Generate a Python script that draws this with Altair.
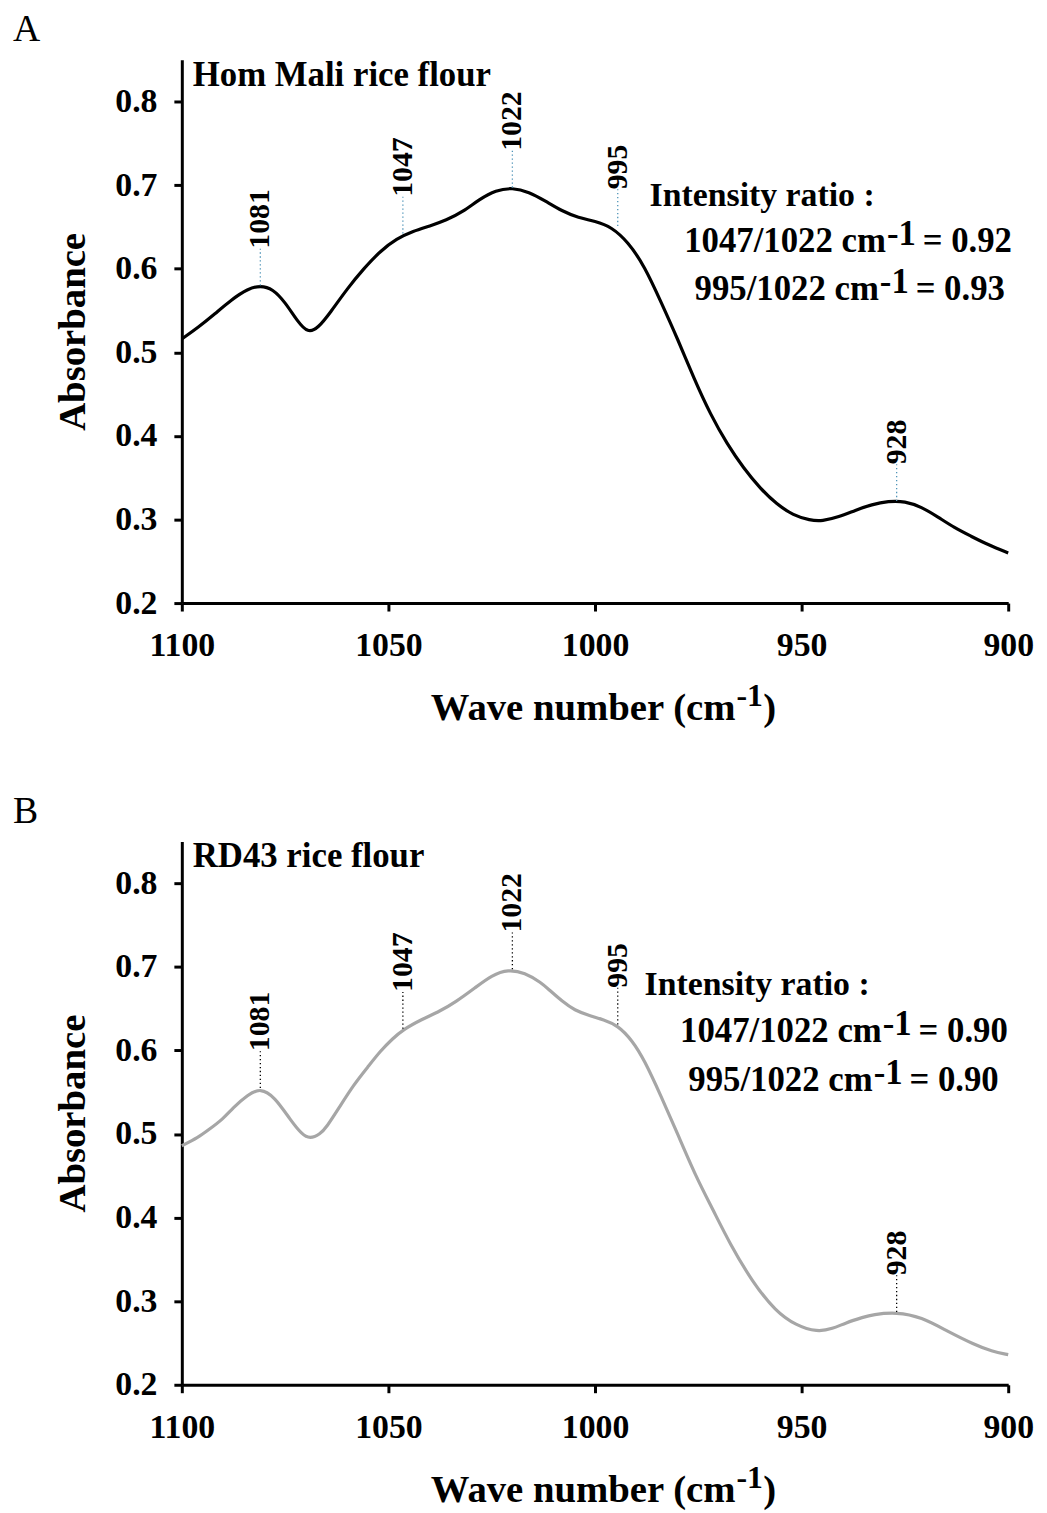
import altair as alt
import pandas as pd

FONT = "Liberation Serif"

# ---- Panel A: Hom Mali rice flour (wave number, absorbance) ----
wn_a = [1100, 1096, 1092, 1088, 1084, 1081, 1078, 1075, 1072, 1069.5, 1067, 1064, 1060,
        1056, 1052, 1048, 1044, 1040, 1036, 1032, 1028, 1024, 1020, 1016, 1012, 1008,
        1004, 1000, 996, 992, 988, 984, 980, 976, 972, 968, 964, 960, 956, 952, 948,
        945, 941, 937, 933, 929, 925, 921, 917, 913, 909, 905, 900]
abs_a = [0.516, 0.530, 0.546, 0.563, 0.576, 0.580, 0.576, 0.560, 0.537, 0.523, 0.529,
         0.548, 0.576, 0.600, 0.621, 0.636, 0.645, 0.651, 0.658, 0.668, 0.683, 0.694,
         0.697, 0.692, 0.681, 0.669, 0.661, 0.657, 0.650, 0.632, 0.603, 0.560, 0.516,
         0.468, 0.425, 0.390, 0.361, 0.337, 0.318, 0.305, 0.299, 0.298, 0.303, 0.311,
         0.318, 0.322, 0.322, 0.315, 0.303, 0.290, 0.280, 0.270, 0.260]

# ---- Panel B: RD43 rice flour ----
wn_b = [1100, 1096, 1093.8, 1090, 1087.7, 1084, 1081, 1077.6, 1073.6, 1071, 1069, 1066.5,
        1065, 1062, 1058.4, 1055, 1052, 1049, 1046.4, 1042, 1037.5, 1033.7, 1029, 1025,
        1021, 1017, 1013, 1011, 1008, 1005, 1001, 998, 994.5, 991, 988, 984, 980, 975.5,
        971.4, 967.5, 961.8, 956.3, 951.4, 946.2, 942.5, 939.4, 935, 932.9, 927, 921,
        914.7, 908.2, 904, 900]
abs_b = [0.486, 0.496, 0.504, 0.518, 0.531, 0.547, 0.555, 0.545, 0.516, 0.500, 0.494,
         0.500, 0.508, 0.531, 0.559, 0.580, 0.599, 0.614, 0.625, 0.637, 0.647, 0.658,
         0.675, 0.690, 0.697, 0.693, 0.681, 0.672, 0.659, 0.648, 0.641, 0.637, 0.630,
         0.612, 0.588, 0.545, 0.500, 0.448, 0.409, 0.370, 0.322, 0.288, 0.271, 0.263,
         0.267, 0.274, 0.281, 0.284, 0.287, 0.281, 0.264, 0.248, 0.240, 0.236]

# ---- Peak annotations ----
peak_labels = ["1081", "1047", "1022", "995", "928"]
peak_x = [1081, 1046.5, 1020, 994.5, 927]
peak_y_a = [0.580, 0.642, 0.697, 0.651, 0.322]
peak_y_b = [0.555, 0.626, 0.697, 0.631, 0.287]
label_gap = 0.044

panel_letters = ["A", "B"]
panel_titles = ["Hom Mali rice flour", "RD43 rice flour"]
ratio_1047 = ["0.92", "0.90"]
ratio_995 = ["0.93", "0.90"]
line_colors = ["#000000", "#a6a6a6"]
rule_colors = ["#4f94b8", "#000000"]

# annotation anchors (data coordinates)
ratio_head_pos = [(986.8, 0.675), (988.0, 0.666)]
ratio_line2_pos = [(929.6, 0.620), (930.6, 0.610)]
ratio_line3_pos = [(931.3, 0.563), (932.8, 0.552)]
xtitle_anchor = 966.0

x_ticks = [1100, 1050, 1000, 950, 900]
y_ticks = [0.2, 0.3, 0.4, 0.5, 0.6, 0.7, 0.8]

xscale = alt.Scale(domain=[900, 1100], reverse=True, nice=False, zero=False)
yscale = alt.Scale(domain=[0.2, 0.85], nice=False, zero=False)

xaxis = alt.Axis(values=x_ticks, format="d", title=None, grid=False,
                 labelFont=FONT, labelFontSize=34, labelFontWeight="bold",
                 labelColor="black", labelPadding=18, tickSize=8, tickWidth=3,
                 tickColor="black", domainColor="black", domainWidth=3,
                 labelFlush=False, labelOverlap=False)
yaxis = alt.Axis(values=y_ticks, format=".1f", title="Absorbance", grid=False,
                 titleFont=FONT, titleFontSize=39, titleFontWeight="bold",
                 titleColor="black", titlePadding=22,
                 labelFont=FONT, labelFontSize=34, labelFontWeight="bold",
                 labelColor="black", labelPadding=17, tickSize=8, tickWidth=3,
                 tickColor="black", domainColor="black", domainWidth=3,
                 labelOverlap=False)


def X():
    return alt.X("wn:Q", scale=xscale, axis=xaxis)


def Y():
    return alt.Y("ab:Q", scale=yscale, axis=yaxis)


def text_layer(df, **kw):
    base = dict(font=FONT, fontWeight="bold", color="black")
    base.update(kw)
    return alt.Chart(df).mark_text(**base).encode(x=X(), y=Y(), text="t:N")


def panel(i, wn, ab, peak_y):
    curve = pd.DataFrame({"wn": wn, "ab": ab})
    peaks = pd.DataFrame({"wn": peak_x, "ab": peak_y,
                          "ab2": [v + label_gap for v in peak_y],
                          "t": peak_labels})

    line = alt.Chart(curve).mark_line(color=line_colors[i], strokeWidth=3.2,
                                      interpolate="basis").encode(x=X(), y=Y())

    rules = alt.Chart(peaks).mark_rule(color=rule_colors[i], strokeWidth=1.3,
                                       strokeDash=[1.3, 2.7]).encode(
        x=X(), y=Y(), y2="ab2:Q")

    plabels = alt.Chart(peaks).mark_text(font=FONT, fontWeight="bold", fontSize=30,
                                         color="black", angle=270, align="left",
                                         baseline="middle").encode(
        x=X(), y=alt.Y("ab2:Q", scale=yscale, axis=yaxis), text="t:N")

    corner = pd.DataFrame({"wn": [1100], "ab": [0.85]})
    title = text_layer(corner.assign(t=panel_titles[i]), fontSize=35, align="left",
                       baseline="alphabetic", dx=11, dy=26)
    letter = text_layer(corner.assign(t=panel_letters[i]), fontSize=38,
                        fontWeight="normal", align="left", baseline="alphabetic",
                        dx=-170, dy=-19)

    hx, hy = ratio_head_pos[i]
    head = text_layer(pd.DataFrame({"wn": [hx], "ab": [hy], "t": ["Intensity ratio :"]}),
                      fontSize=34, align="left", baseline="alphabetic")

    ratio_layers = []
    for (ax, ay), num, val in [(ratio_line2_pos[i], "1047/1022 cm", ratio_1047[i]),
                               (ratio_line3_pos[i], "995/1022 cm", ratio_995[i])]:
        d = pd.DataFrame({"wn": [ax], "ab": [ay]})
        ratio_layers.append(text_layer(d.assign(t=num), fontSize=35, align="right",
                                       baseline="alphabetic"))
        ratio_layers.append(text_layer(d.assign(t="-1"), fontSize=35, align="left",
                                       baseline="alphabetic", dx=1, dy=-7))
        ratio_layers.append(text_layer(d.assign(t="= " + val), fontSize=35,
                                       align="left", baseline="alphabetic", dx=37))

    xt = pd.DataFrame({"wn": [xtitle_anchor], "ab": [0.2]})
    xtitle = [
        text_layer(xt.assign(t="Wave number (cm"), fontSize=39, align="right",
                   baseline="alphabetic", dy=118),
        text_layer(xt.assign(t="-1"), fontSize=32, align="left",
                   baseline="alphabetic", dx=1, dy=104),
        text_layer(xt.assign(t=")"), fontSize=39, align="left",
                   baseline="alphabetic", dx=28, dy=118),
    ]

    return alt.layer(line, rules, plabels, title, letter, head, *ratio_layers,
                     *xtitle).properties(width=832, height=547)


chart = alt.vconcat(
    panel(0, wn_a, abs_a, peak_y_a),
    panel(1, wn_b, abs_b, peak_y_b),
    spacing=65,
).configure_view(stroke=None).properties(
    background="white",
    padding={"left": 5, "top": -2, "right": 5, "bottom": 0},
)

chart.save("out.html", embed_options={"renderer": "svg", "actions": False})
